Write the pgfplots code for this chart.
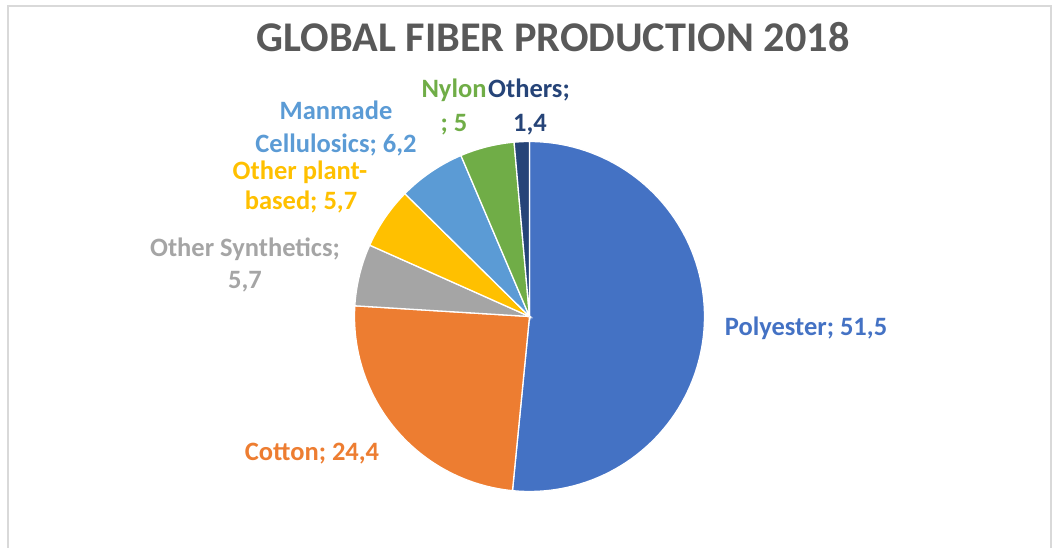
\documentclass[border=0pt]{standalone}
\usepackage{pgfplots}
\pgfplotsset{compat=1.18}
\usepackage{fontspec}
\setmainfont{Carlito}
\definecolor{cPoly}{HTML}{4472C4}
\definecolor{cCot}{HTML}{ED7D31}
\definecolor{cSyn}{HTML}{A5A5A5}
\definecolor{cPlant}{HTML}{FFC000}
\definecolor{cCell}{HTML}{5B9BD5}
\definecolor{cNyl}{HTML}{70AD47}
\definecolor{cOth}{HTML}{264478}
\definecolor{cTitle}{HTML}{595959}
\definecolor{cFrame}{HTML}{D9D9D9}
\def\cx{529.5}
\def\cy{316.5}
\def\R{175}
% #1 cumulative start, #2 cumulative end (share of total 99.9), #3 colour
\newcommand{\slice}[3]{%
  \addplot[fill=#3, draw=white, line width=1.3pt, variable=t,
    samples at={-1,0,1,...,90}]
    ({\cx+(t>=0)*\R*cos(90-(#1+t/90*(#2-#1))*360/99.9)},
     {\cy-(t>=0)*\R*sin(90-(#1+t/90*(#2-#1))*360/99.9)}) -- cycle;}
\begin{document}
\begin{tikzpicture}
\useasboundingbox (0,0) rectangle (1052pt,548pt);
\begin{axis}[at={(0,0)}, anchor=south west, scale only axis, width=1052pt, height=548pt,
  xmin=0, xmax=1052, ymin=0, ymax=548, y dir=reverse,
  hide axis, clip=false]
\draw[cFrame, line width=1.5pt] (axis cs:8,548) -- (axis cs:8,6) -- (axis cs:1051,6) -- (axis cs:1051,548);
% values: Polyester 51.5, Cotton 24.4, Other Synthetics 5.7, Other plant-based 5.7,
% Manmade Cellulosics 6.2, Nylon 5, Others 1.4
\slice{0}{51.5}{cPoly}
\slice{51.5}{75.9}{cCot}
\slice{75.9}{81.6}{cSyn}
\slice{81.6}{87.3}{cPlant}
\slice{87.3}{93.5}{cCell}
\slice{93.5}{98.5}{cNyl}
\slice{98.5}{99.9}{cOth}
\node[anchor=base, text=cTitle, font=\fontsize{42.3}{50}\selectfont\bfseries] at (axis cs:553,52) {GLOBAL FIBER PRODUCTION 2018};
\tikzset{lbl/.style={anchor=base, font=\fontsize{26.5}{30}\selectfont\bfseries}}
\node[lbl, text=cPoly] at (axis cs:806,335) {Polyester; 51,5};
\node[lbl, text=cCot] at (axis cs:312,460) {Cotton; 24,4};
\node[lbl, text=cSyn] at (axis cs:245,256) {Other Synthetics;};
\node[lbl, text=cSyn] at (axis cs:245,288) {5,7};
\node[lbl, text=cPlant] at (axis cs:300,180) {Other plant-};
\node[lbl, text=cPlant] at (axis cs:301,210) {based; 5,7};
\node[lbl, text=cCell] at (axis cs:336,120) {Manmade};
\node[lbl, text=cCell] at (axis cs:336,153) {Cellulosics; 6,2};
\node[lbl, text=cNyl] at (axis cs:454,98) {Nylon};
\node[lbl, text=cNyl] at (axis cs:454,132) {; 5};
\node[lbl, text=cOth] at (axis cs:529,98) {Others;};
\node[lbl, text=cOth] at (axis cs:530,132) {1,4};
\end{axis}
\end{tikzpicture}
\end{document}
